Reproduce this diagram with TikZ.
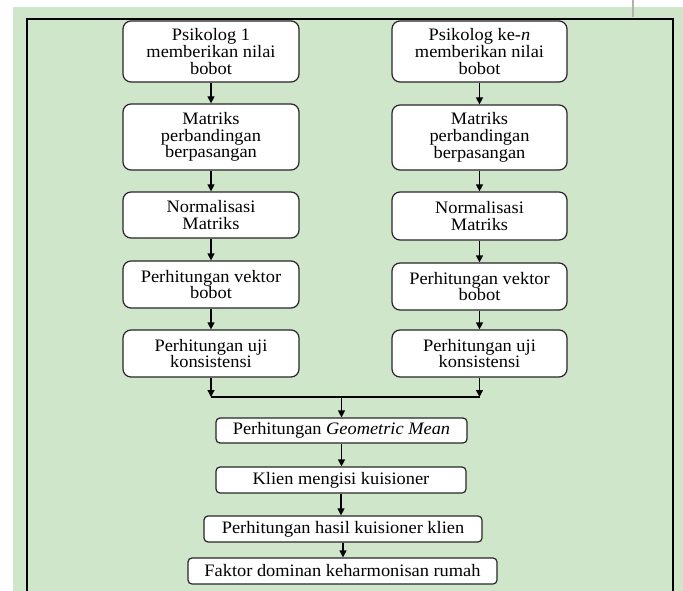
\documentclass[tikz,border=0pt]{standalone}
\usepackage{fontspec}
\setmainfont{Liberation Serif}[FakeStretch=1.05]
\usetikzlibrary{arrows.meta,positioning}
\definecolor{bggreen}{RGB}{207,230,202}
\tikzset{
  flowbox/.style={draw=black!85, fill=white, rounded corners=8pt, line width=1.2pt,
    align=center, inner sep=0pt, font=\fontsize{17.5}{16.7}\selectfont},
  smallbox/.style={flowbox, rounded corners=4pt, minimum height=26pt},
  arr/.style={-{Triangle[length=7pt,width=7pt]}, line width=1.2pt}
}

\begin{document}
\begin{tikzpicture}[x=1pt, y=-1pt]
\useasboundingbox (0,0) rectangle (683,591);

% background and frame
\fill[bggreen] (13,7) rectangle (683,591);
\draw[black!30, line width=1.5pt] (633,0) -- (633,17);
\draw[line width=2pt] (27,591) -- (27,19) -- (673,19) -- (673,591);

% left column
\node[flowbox, minimum width=176pt, minimum height=61pt] (l1) at (211,51.5) {Psikolog 1\\memberikan nilai\\bobot};
\node[flowbox, minimum width=176pt, minimum height=66pt] (l2) at (211,137) {Matriks\\perbandingan\\berpasangan};
\node[flowbox, minimum width=176pt, minimum height=46pt] (l3) at (211,215) {Normalisasi\\Matriks};
\node[flowbox, minimum width=176pt, minimum height=47pt] (l4) at (211,284.5) {Perhitungan vektor\\bobot};
\node[flowbox, minimum width=176pt, minimum height=47pt] (l5) at (211,353.5) {Perhitungan uji\\konsistensi};

% right column
\node[flowbox, minimum width=175pt, minimum height=61pt] (r1) at (479.5,51.5) {Psikolog ke-\textit{n}\\memberikan nilai\\bobot};
\node[flowbox, minimum width=175pt, minimum height=65pt] (r2) at (479.5,137.5) {Matriks\\perbandingan\\berpasangan};
\node[flowbox, minimum width=175pt, minimum height=48pt] (r3) at (479.5,216) {Normalisasi\\Matriks};
\node[flowbox, minimum width=175pt, minimum height=47pt] (r4) at (479.5,286.5) {Perhitungan vektor\\bobot};
\node[flowbox, minimum width=175pt, minimum height=47pt] (r5) at (479.5,353.5) {Perhitungan uji\\konsistensi};

\foreach \i/\j in {l1/l2,l2/l3,l3/l4,l4/l5,r1/r2,r2/r3,r3/r4,r4/r5}
    \draw[arr] (\i) -- (\j);

% merged steps
\node[smallbox, minimum width=251pt, minimum height=25pt] (gm) at (341.5,430.5) {Perhitungan \textit{Geometric Mean}};
\node[smallbox, minimum width=250pt] (kl) at (341,480) {Klien mengisi kuisioner};
\node[smallbox, minimum width=278pt] (hk) at (343,529) {Perhitungan hasil kuisioner klien};
\node[smallbox, minimum width=309pt] (fd) at (342.5,571) {Faktor dominan keharmonisan rumah};

\coordinate (jl) at (211,397);
\coordinate (jr) at (479.5,397);
\coordinate (jm) at (gm.north |- jl);

\draw[arr] (l5) -- (jl);
\draw[arr] (r5) -- (jr);
\draw[line width=1.2pt] (jl) -- (jr);
\draw[arr] (jm) -- (gm);

\foreach \i/\j in {gm/kl,kl/hk,hk/fd}
    \draw[arr] (\i.south) -- (\i.south |- \j.north);

\end{tikzpicture}
\end{document}
